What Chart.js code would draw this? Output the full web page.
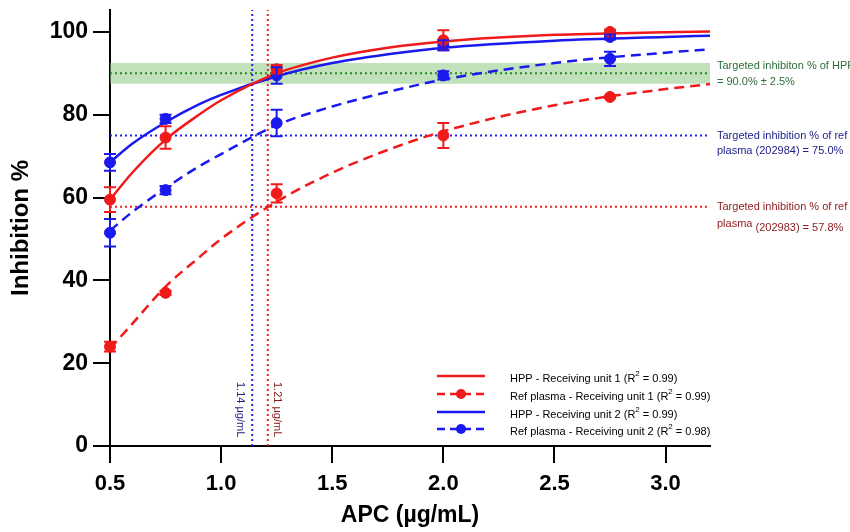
<!DOCTYPE html>
<html>
<head>
<meta charset="utf-8">
<script src="https://cdn.jsdelivr.net/npm/chart.js@4.4.1/dist/chart.umd.min.js"></script>
<style>
  html, body { margin: 0; padding: 0; background: #fff; }
  #wrap { width: 850px; height: 532px; }
</style>
</head>
<body>
<div id="wrap"><canvas id="apcChart" width="850" height="532"></canvas></div>
<script>
"use strict";
// measured points (mean +/- error)
const conc = [0.5, 0.75, 1.25, 2.0, 2.75];
const hpp1 = [59.5, 74.5, 91.0, 98.0, 100.0];
const hpp1Err = [3.0, 2.7, 1.0, 2.4, 0.5];
const ref1 = [24.0, 37.0, 61.0, 75.0, 84.3];
const ref1Err = [1.2, 0.5, 2.2, 3.0, 0.3];
const hpp2 = [68.5, 79.0, 89.5, 96.8, 98.8];
const hpp2Err = [2.0, 1.0, 2.0, 1.2, 0.6];
const ref2 = [51.5, 61.8, 78.0, 89.5, 93.5];
const ref2Err = [3.3, 1.0, 3.2, 1.0, 1.7];

// fitted curves
const fitX = [0.5, 0.6, 0.75, 0.9, 1.0, 1.25, 1.5, 1.75, 2.0, 2.5, 3.0, 3.2];
const hpp1Fit = [59.5, 66.0, 74.0, 80.0, 83.5, 90.0, 93.8, 96.2, 97.7, 99.3, 99.9, 100.1];
const ref1Fit = [23.5, 29.5, 38.5, 45.5, 50.0, 59.0, 66.0, 71.5, 76.0, 82.3, 86.2, 87.4];
const hpp2Fit = [68.5, 73.0, 78.2, 82.5, 84.8, 89.3, 92.5, 94.6, 96.2, 97.9, 98.8, 99.1];
const ref2Fit = [52.0, 56.5, 62.3, 67.5, 70.5, 77.5, 82.0, 85.5, 88.5, 92.5, 95.0, 95.8];

// targets
const targetHpp = 90.0;
const targetHppTol = 2.5;
const targetRef2 = 75.0;
const targetRef1 = 57.8;
const concRef2 = 1.14;
const concRef1 = 1.21;

const xMin = 0.5, xMax = 3.2, yMin = 0, yMax = 105.3;
const xTicks = [0.5, 1.0, 1.5, 2.0, 2.5, 3.0];
const yTicks = [0, 20, 40, 60, 80, 100];

const RED = "#f01a1a";
const BLUE = "#1a1aee";
const FONT = "'Liberation Sans', Arial, sans-serif";

function pts(xs, ys) { return xs.map((x, i) => ({ x: x, y: ys[i] })); }
function hline(y) { return [{ x: xMin, y: y }, { x: xMax, y: y }]; }
function vline(x) { return [{ x: x, y: yMin }, { x: x, y: yMax }]; }

function curve(data, color, dashed) {
    return {
        data: data, showLine: true, pointRadius: 0, borderColor: color,
        borderWidth: 2.5, borderDash: dashed ? [10, 6] : [],
        cubicInterpolationMode: "monotone", fill: false, clip: false
    };
}
function markers(data, color, err) {
    return {
        data: data, showLine: false, pointRadius: 5.5, pointBackgroundColor: color,
        pointBorderColor: color, errors: err, clip: false
    };
}
function guide(data, color) {
    return {
        data: data, showLine: true, pointRadius: 0, borderColor: color,
        borderWidth: 2, borderDash: [2, 3], fill: false, clip: false
    };
}

// error bars
const errorBars = {
    id: "errorBars",
    afterDatasetsDraw(chart) {
        const ctx = chart.ctx;
        const ys = chart.scales.y;
        chart.data.datasets.forEach((ds, di) => {
            if (!ds.errors) return;
            const meta = chart.getDatasetMeta(di);
            ctx.save();
            ctx.strokeStyle = ds.pointBackgroundColor;
            ctx.lineWidth = 2;
            meta.data.forEach((p, i) => {
                const e = ds.errors[i];
                if (!e) return;
                const v = ds.data[i].y;
                const top = ys.getPixelForValue(v + e);
                const bot = ys.getPixelForValue(v - e);
                ctx.beginPath();
                ctx.moveTo(p.x, top); ctx.lineTo(p.x, bot);
                ctx.moveTo(p.x - 6, top); ctx.lineTo(p.x + 6, top);
                ctx.moveTo(p.x - 6, bot); ctx.lineTo(p.x + 6, bot);
                ctx.stroke();
            });
            ctx.restore();
        });
    }
};

// text labels + legend
const labels = {
    id: "labels",
    afterDraw(chart) {
        const ctx = chart.ctx;
        const xs = chart.scales.x, ys = chart.scales.y;
        const right = chart.chartArea.right;
        ctx.save();
        ctx.textBaseline = "middle";
        ctx.textAlign = "left";
        ctx.font = "11px " + FONT;

        ctx.fillStyle = "#2e6e3a";
        const gy = ys.getPixelForValue(targetHpp);
        ctx.fillText("Targeted inhibiton % of HPP", right + 7, gy - 7);
        ctx.fillText("= " + targetHpp.toFixed(1) + "% \u00b1 " + targetHppTol.toFixed(1) + "%", right + 7, gy + 9);

        ctx.fillStyle = "#22228a";
        const by = ys.getPixelForValue(targetRef2);
        ctx.fillText("Targeted inhibition % of ref", right + 7, by + 1);
        ctx.fillText("plasma (202984) = " + targetRef2.toFixed(1) + "%", right + 7, by + 16);

        ctx.fillStyle = "#8a1a1a";
        const ry = ys.getPixelForValue(targetRef1);
        ctx.fillText("Targeted inhibition % of ref", right + 7, ry);
        ctx.fillText("plasma", right + 7, ry + 17);
        const pw = ctx.measureText("plasma ").width;
        ctx.fillText("(202983) = " + targetRef1.toFixed(1) + "%", right + 7 + pw, ry + 21);

        // vertical labels
        ctx.font = "11px " + FONT;
        const bx = xs.getPixelForValue(concRef2);
        const rx = xs.getPixelForValue(concRef1);
        ctx.save();
        ctx.translate(bx - 12, 382);
        ctx.rotate(Math.PI / 2);
        ctx.fillStyle = "#1e1e86";
        ctx.fillText(concRef2.toFixed(2) + " \u00b5g/mL", 0, 0);
        ctx.restore();
        ctx.save();
        ctx.translate(rx + 9, 382);
        ctx.rotate(Math.PI / 2);
        ctx.fillStyle = "#861818";
        ctx.fillText(concRef1.toFixed(2) + " \u00b5g/mL", 0, 0);
        ctx.restore();

        // legend
        const rows = [
            ["HPP - Receiving unit 1 (R", "0.99", RED, false],
            ["Ref plasma - Receiving unit 1 (R", "0.99", RED, true],
            ["HPP - Receiving unit 2 (R", "0.99", BLUE, false],
            ["Ref plasma - Receiving unit 2 (R", "0.98", BLUE, true]
        ];
        const ly = [376, 394, 412, 429];
        rows.forEach((r, i) => {
            const y = ly[i];
            ctx.strokeStyle = r[2];
            ctx.fillStyle = r[2];
            ctx.lineWidth = 2.5;
            ctx.setLineDash(r[3] ? [8, 5] : []);
            ctx.beginPath();
            ctx.moveTo(437, y); ctx.lineTo(485, y);
            ctx.stroke();
            ctx.setLineDash([]);
            if (r[3]) {
                ctx.beginPath();
                ctx.arc(461, y, 5, 0, Math.PI * 2);
                ctx.fill();
            }
            ctx.fillStyle = "#000";
            ctx.font = "11px " + FONT;
            const ty = y + 3;
            let tx = 510;
            ctx.fillText(r[0], tx, ty);
            tx += ctx.measureText(r[0]).width;
            ctx.font = "8px " + FONT;
            ctx.fillText("2", tx, ty - 5);
            tx += ctx.measureText("2").width;
            ctx.font = "11px " + FONT;
            ctx.fillText(" = " + r[1] + ")", tx, ty);
        });
        ctx.restore();
    }
};

const ctx = document.getElementById("apcChart");
const apcChart = new Chart(ctx, {
    type: "scatter",
    data: {
        datasets: [
            markers(pts(conc, hpp1), RED, hpp1Err),
            markers(pts(conc, ref1), RED, ref1Err),
            markers(pts(conc, hpp2), BLUE, hpp2Err),
            markers(pts(conc, ref2), BLUE, ref2Err),
            curve(pts(fitX, hpp1Fit), RED, false),
            curve(pts(fitX, ref1Fit), RED, true),
            curve(pts(fitX, hpp2Fit), BLUE, false),
            curve(pts(fitX, ref2Fit), BLUE, true),
            guide(vline(concRef2), "#2020f0"),
            guide(vline(concRef1), "#f02020"),
            guide(hline(targetRef2), "#2020f0"),
            guide(hline(targetRef1), "#f02020"),
            guide(hline(targetHpp), "#2a8a2a"),
            {
                data: hline(targetHpp + targetHppTol), showLine: true, pointRadius: 0,
                borderWidth: 0, borderColor: "rgba(0,0,0,0)",
                backgroundColor: "rgba(140,200,130,0.55)", fill: "+1"
            },
            {
                data: hline(targetHpp - targetHppTol), showLine: true, pointRadius: 0,
                borderWidth: 0, borderColor: "rgba(0,0,0,0)", fill: false
            }
        ]
    },
    options: {
        responsive: false,
        animation: false,
        layout: { padding: { left: 0, right: 140, top: 10, bottom: 0 } },
        plugins: { legend: { display: false }, tooltip: { enabled: false } },
        scales: {
            x: {
                type: "linear", min: xMin, max: xMax,
                afterBuildTicks: (s) => { s.ticks = xTicks.map(v => ({ value: v })); },
                afterFit: (s) => { s.height = 86; s.paddingLeft = 0; s.paddingRight = 0; },
                ticks: {
                    color: "#000", padding: 8,
                    font: { family: FONT, size: 22, weight: "bold" },
                    callback: (v) => v.toFixed(1)
                },
                grid: { drawOnChartArea: false, drawTicks: true, tickLength: 17, color: "#000", lineWidth: 2 },
                border: { color: "#000", width: 2 },
                title: {
                    display: true, text: "APC (\u00b5g/mL)", color: "#000",
                    font: { family: FONT, size: 23, weight: "bold" },
                    padding: { top: 2, bottom: 3 }
                }
            },
            y: {
                type: "linear", min: yMin, max: yMax,
                afterBuildTicks: (s) => { s.ticks = yTicks.map(v => ({ value: v })); },
                afterFit: (s) => { s.width = 110; s.paddingTop = 0; s.paddingBottom = 0; },
                ticks: {
                    color: "#000", padding: 5,
                    font: { family: FONT, size: 23, weight: "bold" }
                },
                grid: { drawOnChartArea: false, drawTicks: true, tickLength: 17, color: "#000", lineWidth: 2 },
                border: { color: "#000", width: 2 },
                title: {
                    display: true, text: "Inhibition %", color: "#000",
                    font: { family: FONT, size: 24, weight: "bold" },
                    padding: { top: 7, bottom: 0 }
                }
            }
        }
    },
    plugins: [errorBars, labels]
});
</script>
</body>
</html>
